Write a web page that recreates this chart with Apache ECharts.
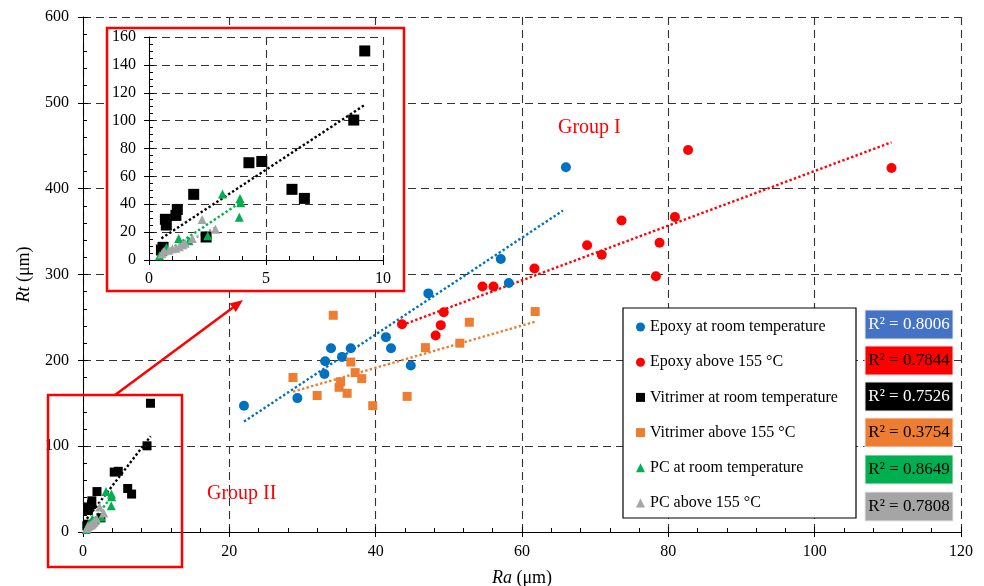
<!DOCTYPE html>
<html><head><meta charset="utf-8">
<script src="https://cdn.jsdelivr.net/npm/echarts@6/dist/echarts.min.js"></script>
<style>html,body{margin:0;padding:0;background:#fff}#c{width:984px;height:586px}</style>
</head><body><div id="c"></div>
<script>
// ---- data ----
const seriesNames = ['Epoxy at room temperature','Epoxy above 155 °C','Vitrimer at room temperature','Vitrimer above 155 °C','PC at room temperature','PC above 155 °C'];
const r2Labels = ['R² = 0.8006','R² = 0.7844','R² = 0.7526','R² = 0.3754','R² = 0.8649','R² = 0.7808'];

const epoxyRT = [[22.0,147],[29.3,156],[33.0,184],[33.1,199],[33.9,214],[35.4,204],[36.6,214],[41.4,227],[42.1,214],[44.8,194],[47.2,278],[57.1,318],[58.2,290],[66.0,425]];
const epoxyHot = [[43.6,242],[48.2,229],[48.9,241],[49.3,256],[54.6,286],[56.1,286],[61.7,307],[68.9,334],[70.9,323],[73.6,363],[78.3,298],[78.8,337],[80.9,367],[82.7,445],[110.5,424]];
const vitrimerRT = [[0.53,7.2],[0.6,9.1],[0.70,29.2],[0.74,25.1],[1.15,32],[1.21,36.3],[1.91,47.1],[2.44,16.5],[4.27,69.8],[4.82,70.7],[6.11,50.7],[6.64,44.2],[8.75,100.4],[9.22,150]];
const vitrimerHot = [[28.7,180],[32.0,159],[34.2,252.5],[35.0,168.6],[35.2,175],[36.1,161.6],[36.6,198],[37.2,185.7],[38.1,178.7],[39.6,147.2],[44.3,158],[46.8,214.8],[51.5,220],[52.8,244.4],[61.8,256.8]];
const pcRT = [[0.45,3],[0.6,6],[0.75,9],[1.27,15.5],[1.71,13.9],[2.51,17.4],[3.14,47.3],[3.86,30.6],[3.89,44.2],[3.92,41.1]];
const pcHot = [[0.55,4.5],[0.65,6.5],[0.85,7],[1.0,8],[1.15,8.5],[1.3,9.5],[1.45,11],[1.55,12],[1.85,15.5],[2.27,29],[2.84,22]];

// trendline end points
const trendEpoxyRT = [[22.0,128.6],[65.6,374.5]];
const trendEpoxyHot = [[43.6,241],[110.5,454]];
const trendVitrimerRT = [[0.53,15.5],[9.25,111.6]];
const trendVitrimerHot = [[28.7,163.5],[61.8,245]];
const trendPcRT = [[0.43,2.4],[3.95,41.8]];
const trendPcHot = [[0.6,4],[2.85,23.5]];

const colors = ['#0070C0','#FF0000','#000000','#ED7D31','#00B050','#A5A5A5'];
const boxColors = ['#4472C4','#FF0000','#000000','#ED7D31','#00B050','#A5A5A5'];
const boxText = ['#ffffff','#000000','#ffffff','#000000','#000000','#000000'];

const FONT = '"Liberation Serif", "Times New Roman", serif';
const chart = echarts.init(document.getElementById('c'));

function axisCommon(extra){
  return Object.assign({
    axisLine:{show:true,onZero:false,lineStyle:{color:'#000',width:1}},
    axisTick:{show:true,inside:true,length:5,lineStyle:{color:'#000'}},
    splitLine:{show:true,lineStyle:{color:'#333',type:[8,5],width:1.1}},
    axisLabel:{color:'#000',fontFamily:FONT,fontSize:16},
  }, extra);
}
// outside half of the crossing major ticks
function tickOnly(type, gi, min, max, interval, pos, z){
  return {type:'value', gridIndex:gi, min, max, interval, position:pos, offset:0, z,
    axisLine:{show:false}, axisLabel:{show:false}, splitLine:{show:false},
    axisTick:{show:true,inside:false,length:5,lineStyle:{color:'#000'}}};
}

function scatter(name, data, symbol, size, color, xi, z){
  return {type:'scatter', name, data, symbol, symbolSize:size, xAxisIndex:xi, yAxisIndex:xi,
    itemStyle:{color, opacity:1}, z, emphasis:{disabled:true}, silent:true};
}
function trend(data, color, xi, z){
  return {type:'line', data, xAxisIndex:xi, yAxisIndex:xi, symbol:'none', showSymbol:false, silent:true,
    lineStyle:{color, width:2.4, type:[2.4,2.3], cap:'butt'}, z, emphasis:{disabled:true}};
}

const symbols = ['circle','circle','rect','rect','triangle','triangle'];
const mainData = [epoxyRT, epoxyHot, vitrimerRT, vitrimerHot, pcRT, pcHot];
const mainSizes = [10,10,9,9,9,9];
const trends = [trendEpoxyRT, trendEpoxyHot, trendVitrimerRT, trendVitrimerHot, trendPcRT, trendPcHot];

const series = [];
mainData.forEach((d,i)=>series.push(scatter(seriesNames[i], d, symbols[i], mainSizes[i], colors[i], 0, 2)));
trends.forEach((d,i)=>series.push(trend(d, colors[i], 0, 2)));
// inset
series.push(scatter('inset-v', vitrimerRT, 'rect', 11, colors[2], 1, 7));
series.push(scatter('inset-pcrt', pcRT, 'triangle', 9, colors[4], 1, 7));
series.push(scatter('inset-pchot', pcHot, 'triangle', 9, colors[5], 1, 7));
series.push(trend(trendVitrimerRT, colors[2], 1, 7));
series.push(trend(trendPcRT, colors[4], 1, 7));
series.push(trend(trendPcHot, colors[5], 1, 7));

const graphics = [];
graphics.push({type:'rect', z:5, shape:{x:107,y:28,width:297,height:263}, style:{fill:'#fff',stroke:'#FF0000',lineWidth:2.5}});
graphics.push({type:'rect', z:5, shape:{x:48,y:395,width:134,height:172}, style:{fill:'none',stroke:'#FF0000',lineWidth:2.5}});
graphics.push({type:'line', z:5, shape:{x1:115,y1:395,x2:233,y2:307.5}, style:{stroke:'#FF0000',lineWidth:2.5}});
graphics.push({type:'polygon', z:5, shape:{points:[[243,300],[235.8,312],[229.6,303.6]]}, style:{fill:'#FF0000'}});
graphics.push({type:'rect', z:5, shape:{x:623,y:308,width:233,height:210}, style:{fill:'#fff',stroke:'#000',lineWidth:1.2}});
const boxTops = [310,346,382,418,455,492];
r2Labels.forEach((t,i)=>{
  graphics.push({type:'rect', z:5, shape:{x:865,y:boxTops[i],width:88,height:29}, style:{fill:boxColors[i],stroke:'#e8e8e8',lineWidth:1}});
  graphics.push({type:'text', z:6, x:909, y:boxTops[i]+15, style:{text:t, fill:boxText[i], font:'17px '+FONT, align:'center', verticalAlign:'middle', textAlign:'center', textVerticalAlign:'middle'}});
});
graphics.push({type:'text', z:6, x:558, y:128, style:{text:'Group I', fill:'#FF0000', font:'20px '+FONT, verticalAlign:'middle', textVerticalAlign:'middle'}});
graphics.push({type:'text', z:6, x:207, y:494, style:{text:'Group II', fill:'#FF0000', font:'20px '+FONT, verticalAlign:'middle', textVerticalAlign:'middle'}});

const option = {
  animation:false,
  backgroundColor:'#fff',
  textStyle:{fontFamily:FONT},
  grid:[
    {left:83, top:17, right:23, bottom:54, containLabel:false, outerBoundsMode:'none'},
    {left:149, top:37, right:601, bottom:326, containLabel:false, outerBoundsMode:'none'}
  ],
  xAxis:[
    axisCommon({type:'value', gridIndex:0, min:0, max:120, interval:20, position:'bottom',
      minorTick:{show:true,length:4,splitNumber:5,lineStyle:{color:'#000'}},
      axisLabel:{color:'#000',fontFamily:FONT,fontSize:16,margin:12},
      name:'{i|Ra} (μm)', nameLocation:'middle', nameGap:37,
      nameTextStyle:{color:'#000',fontFamily:FONT,fontSize:18,rich:{i:{fontStyle:'italic',fontFamily:FONT,fontSize:18,color:'#000'}}}}),
    axisCommon({type:'value', gridIndex:1, min:0, max:10, interval:5, z:6, position:'bottom',
      minorTick:{show:true,length:4,splitNumber:5,lineStyle:{color:'#000'}},
      axisLabel:{color:'#000',fontFamily:FONT,fontSize:16,margin:11}}),
    tickOnly('x',0,0,120,20,'bottom',1),
    tickOnly('x',1,0,10,5,'bottom',6)
  ],
  yAxis:[
    axisCommon({type:'value', gridIndex:0, min:0, max:600, interval:100, position:'left',
      minorTick:{show:true,length:4,splitNumber:5,lineStyle:{color:'#000'}},
      axisLabel:{color:'#000',fontFamily:FONT,fontSize:16,margin:14},
      name:'{i|Rt} (μm)', nameLocation:'middle', nameGap:50, nameRotate:90,
      nameTextStyle:{color:'#000',fontFamily:FONT,fontSize:18,rich:{i:{fontStyle:'italic',fontFamily:FONT,fontSize:18,color:'#000'}}}}),
    axisCommon({type:'value', gridIndex:1, min:0, max:160, interval:20, z:6, position:'left',
      minorTick:{show:true,length:4,splitNumber:4,lineStyle:{color:'#000'}},
      axisLabel:{color:'#000',fontFamily:FONT,fontSize:16,margin:13}}),
    tickOnly('y',0,0,600,100,'left',1),
    tickOnly('y',1,0,160,20,'left',6)
  ],
  legend:{
    z:8, left:636, top:319, orient:'vertical', padding:0, itemGap:19.2, itemWidth:9, itemHeight:9,
    selectedMode:false, backgroundColor:'transparent',
    textStyle:{color:'#000',fontFamily:FONT,fontSize:16,lineHeight:16},
    data:seriesNames.map((n,i)=>({name:n, icon:symbols[i], itemStyle:{color:colors[i]}}))
  },
  graphic:graphics,
  series
};
chart.setOption(option);
</script></body></html>
